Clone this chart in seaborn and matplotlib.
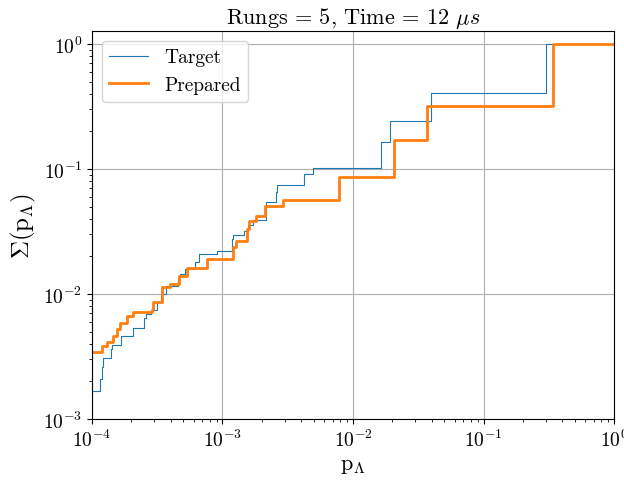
import pandas as pd
import matplotlib
matplotlib.use("Agg")
import matplotlib.pyplot as plt
import seaborn as sns

# step points (x = p_Lambda, y = cumulative sum)
target_x = [1.0e-4, 1.15e-4, 1.19e-4, 1.22e-4, 1.39e-4, 1.42e-4, 1.66e-4, 2.05e-4,
            2.50e-4, 2.59e-4, 2.83e-4, 3.13e-4, 3.40e-4, 3.69e-4, 4.56e-4, 4.70e-4,
            5.16e-4, 6.15e-4, 6.60e-4, 9.15e-4, 1.18e-3, 1.21e-3, 1.46e-3, 1.57e-3,
            1.72e-3, 2.15e-3, 2.57e-3, 2.60e-3, 4.22e-3, 4.96e-3, 1.63e-2, 1.92e-2,
            3.96e-2, 0.300, 1.0]
target_y = [1.67e-3, 2.09e-3, 2.61e-3, 3.10e-3, 3.63e-3, 3.91e-3, 4.61e-3, 5.37e-3,
            6.43e-3, 6.92e-3, 7.49e-3, 8.63e-3, 1.00e-2, 1.16e-2, 1.34e-2, 1.45e-2,
            1.58e-2, 1.81e-2, 2.09e-2, 2.22e-2, 2.75e-2, 2.94e-2, 3.21e-2, 3.56e-2,
            3.93e-2, 5.47e-2, 6.51e-2, 7.45e-2, 9.12e-2, 0.101, 0.164, 0.243,
            0.406, 1.0, 1.0]

prepared_x = [1.0e-4, 1.19e-4, 1.30e-4, 1.46e-4, 1.56e-4, 1.64e-4, 1.84e-4, 2.07e-4,
              2.87e-4, 2.95e-4, 3.46e-4, 3.96e-4, 4.67e-4, 5.32e-4, 7.65e-4, 1.21e-3,
              1.28e-3, 1.53e-3, 1.60e-3, 1.81e-3, 2.12e-3, 2.89e-3, 7.85e-3, 2.07e-2,
              3.67e-2, 0.339, 1.0]
prepared_y = [3.42e-3, 3.82e-3, 4.11e-3, 4.59e-3, 5.25e-3, 5.86e-3, 6.63e-3, 7.14e-3,
              7.49e-3, 8.59e-3, 1.13e-2, 1.20e-2, 1.39e-2, 1.61e-2, 1.91e-2, 2.36e-2,
              2.67e-2, 3.31e-2, 3.86e-2, 4.23e-2, 5.03e-2, 5.68e-2, 8.68e-2, 0.171,
              0.318, 1.0, 1.0]

df_t = pd.DataFrame({"p": target_x, "cum": target_y})
df_p = pd.DataFrame({"p": prepared_x, "cum": prepared_y})

plt.rcParams["font.family"] = "serif"
plt.rcParams["font.serif"] = ["cmr10", "DejaVu Serif"]
plt.rcParams["mathtext.fontset"] = "cm"
plt.rcParams["axes.formatter.use_mathtext"] = True
plt.rcParams["font.size"] = 14

fig, ax = plt.subplots(figsize=(6.24, 4.81), dpi=100)
fig.subplots_adjust(left=0.1474, right=0.984, bottom=0.1268, top=0.9335)

sns.lineplot(data=df_t, x="p", y="cum", ax=ax, drawstyle="steps-post",
             color="#1f77b4", linewidth=0.8, label="Target")
sns.lineplot(data=df_p, x="p", y="cum", ax=ax, drawstyle="steps-post",
             color="#ff7f0e", linewidth=2.0, label="Prepared")

ax.set_xscale("log")
ax.set_yscale("log")
ax.set_xlim(1e-4, 1)
ax.set_ylim(1e-3, 1.27)
ax.grid(True, which="major", color="#b0b0b0", linewidth=0.8)
ax.tick_params(labelsize=14)

ax.set_title(r"Rungs = 5, Time = 12 $\mu s$", fontsize=16)
ax.set_xlabel(r"$\mathrm{p}_\Lambda$", fontsize=16)
ax.set_ylabel(r"$\Sigma(\mathrm{p}_\Lambda)$", fontsize=18)
ax.legend(loc="upper left", fontsize=14)

fig.savefig("out.png", dpi=100)
